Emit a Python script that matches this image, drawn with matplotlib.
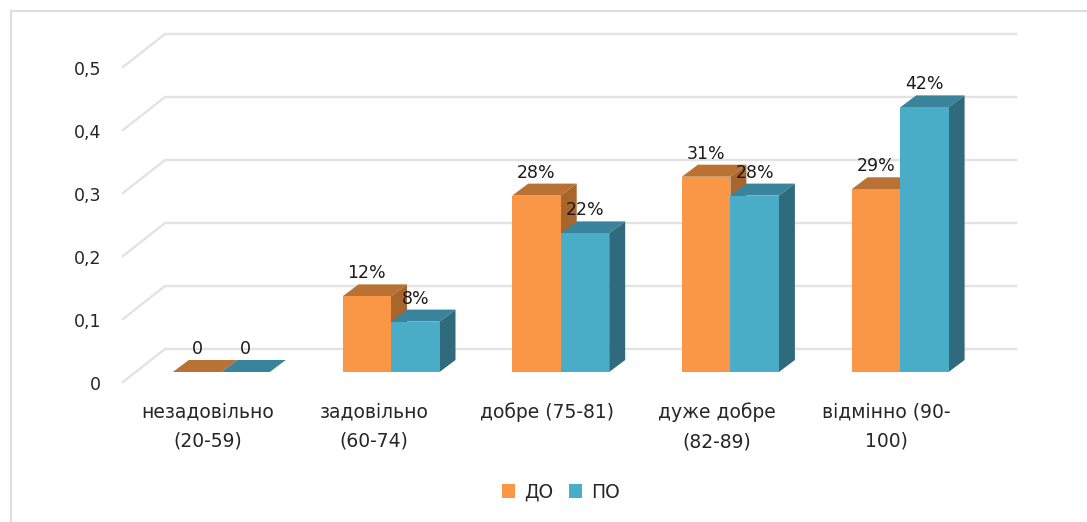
import matplotlib
matplotlib.use('Agg')
import matplotlib.pyplot as plt
from matplotlib.patches import Polygon, Rectangle
from matplotlib.lines import Line2D

categories = ['незадовільно\n(20-59)', 'задовільно\n(60-74)', 'добре (75-81)', 'дуже добре\n(82-89)', 'відмінно (90-\n100)']
label_x = [208, 374, 547, 717, 886]
do_vals = [0, 0.12, 0.28, 0.31, 0.29]
po_vals = [0, 0.08, 0.22, 0.28, 0.42]
do_text = ['0', '12%', '28%', '31%', '29%']
po_text = ['0', '8%', '22%', '28%', '42%']
ticks = [0, 0.1, 0.2, 0.3, 0.4, 0.5]
tick_text = ['0', '0,1', '0,2', '0,3', '0,4', '0,5']

W, H = 1087, 522
X0 = 391      # пиксель центра второй группы
DX = 169.7    # шаг групп
Y0 = 372      # передний край пола
SY = 630.0    # пикселей на единицу

plt.rcParams['font.family'] = ['DejaVu Sans']
fig = plt.figure(figsize=(W / 100, H / 100), dpi=100)
ax = fig.add_axes([0, 0, 1, 1])
ax.set_xlim((0 - X0) / DX + 1, (W - X0) / DX + 1)
ax.set_ylim((Y0 - H) / SY, Y0 / SY)
ax.axis('off')

px = 1 / DX    # единица x на пиксель
py = 1 / SY    # единица y на пиксель
bar_w = 48.5 * px
dep_x = 16 * px
dep_y = 12 * py

ORANGE = ('#F99746', '#B97233', '#A8662D')
BLUE = ('#4AADC8', '#39849B', '#306B7D')

# рамка
frame = '#dddddd'
fig.add_artist(Line2D([11 / W, 11 / W, 1], [0, 1 - 11 / H, 1 - 11 / H], color=frame, lw=1.5))

# сетка: задняя стенка и косой край пола
back_dy = 23 * py
for t, s in zip(ticks, tick_text):
    x_l = 1 + (165 - X0) * px
    x_r = 1 + (1016 - X0) * px
    x_f = 1 + (123 - X0) * px
    y_b = t + back_dy
    y_f = y_b - 33 * py
    ax.plot([x_f, x_l, x_r], [y_f, y_b, y_b], color='#e3e3e3', lw=1.7, zorder=1, solid_joinstyle='miter')
    ax.text(1 + (101 - X0) * px, y_f - 3 * py, s, ha='right', va='center', fontsize=12.5, color='#262626')


def bar3d(x, v, cols, z):
    front, top, side = cols
    ax.add_patch(Polygon([(x, v), (x + dep_x, v + dep_y), (x + bar_w + dep_x, v + dep_y), (x + bar_w, v)],
                         fc=top, ec='none', zorder=z))
    ax.add_patch(Polygon([(x + bar_w, 0), (x + bar_w + dep_x, dep_y), (x + bar_w + dep_x, v + dep_y), (x + bar_w, v)],
                         fc=side, ec='none', zorder=z))
    ax.add_patch(Rectangle((x, 0), bar_w, v, fc=front, ec='none', zorder=z + 0.1))


for i in range(5):
    c = i
    bar3d(c - bar_w, do_vals[i], ORANGE, 3 + i)
    bar3d(c, po_vals[i], BLUE, 3.5 + i)
    ax.text(c - bar_w / 2, do_vals[i] + 23 * py, do_text[i], ha='center', va='center',
            fontsize=12.5, color='#1a1a1a', zorder=20)
    ax.text(c + bar_w / 2, po_vals[i] + 23 * py, po_text[i], ha='center', va='center',
            fontsize=12.5, color='#1a1a1a', zorder=20)
    ax.text(1 + (label_x[i] - X0) * px, -30 * py, categories[i], ha='center', va='top',
            fontsize=13.5, color='#262626', linespacing=1.7, zorder=20)

handles = [Rectangle((0, 0), 1, 1, fc=ORANGE[0]), Rectangle((0, 0), 1, 1, fc=BLUE[0])]
ax.legend(handles, ['ДО', 'ПО'], ncols=2, frameon=False, loc='center', bbox_to_anchor=(561 / W, 1 - 492 / H),
          fontsize=13.5, handlelength=0.7, handleheight=0.75, handletextpad=0.5, columnspacing=0.8,
          labelcolor='#262626')

fig.savefig('out.png', dpi=100)
